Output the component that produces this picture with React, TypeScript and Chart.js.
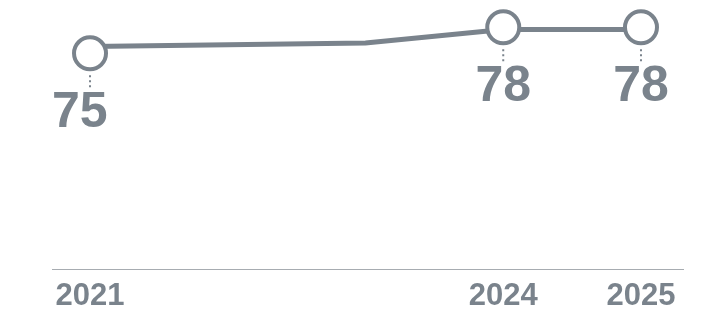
import React, { useEffect, useRef } from "react";
import { Chart, registerables } from "chart.js";

Chart.register(...registerables);

// Data
const lineYears = [2021, 2023, 2024, 2025];
const lineValues = [75.8, 76.2, 77.75, 77.75];
const markerYears = [2021, 2024, 2025];
const markerValues = [75, 78, 78];
const markerLabels = ["75", "78", "78"];
const tickYears = [2021, 2024, 2025];

const GRAY = "#7a838c";
const AXIS = "#a7acb1";

const valueLabelPlugin = {
  id: "valueLabels",
  afterDatasetsDraw(chart: any) {
    const ctx = chart.ctx;
    const meta = chart.getDatasetMeta(0);
    const area = chart.chartArea;
    ctx.save();
    meta.data.forEach((pt: any, i: number) => {
      const x = pt.x;
      const y = pt.y;
      // dotted connector
      ctx.strokeStyle = GRAY;
      ctx.lineWidth = 2;
      ctx.setLineDash([2, 3]);
      ctx.beginPath();
      ctx.moveTo(x, y + 22);
      ctx.lineTo(x, y + 34);
      ctx.stroke();
      ctx.setLineDash([]);
      // label
      ctx.fillStyle = GRAY;
      ctx.font = "bold 50px 'Liberation Sans', Arial, sans-serif";
      ctx.textBaseline = "alphabetic";
      const w = ctx.measureText(markerLabels[i]).width;
      let left = x - w / 2;
      if (left - 15 < area.left) left = area.left;
      ctx.textAlign = "left";
      ctx.fillText(markerLabels[i], left, y + 74);
    });
    ctx.restore();
  },
};

export default function App() {
  const ref = useRef<HTMLCanvasElement | null>(null);
  useEffect(() => {
    if (!ref.current) return;
    const chart = new Chart(ref.current, {
      type: "line",
      data: {
        datasets: [
          {
            data: markerYears.map((x, i) => ({ x, y: markerValues[i] })),
            showLine: false,
            pointRadius: 16,
            pointBorderWidth: 4,
            pointBorderColor: GRAY,
            pointBackgroundColor: "#ffffff",
            clip: false as any,
          },
          {
            data: lineYears.map((x, i) => ({ x, y: lineValues[i] })),
            borderColor: GRAY,
            borderWidth: 5,
            pointRadius: 0,
            tension: 0,
            fill: false,
            clip: false as any,
          },
        ],
      },
      options: {
        animation: false,
        responsive: true,
        maintainAspectRatio: false,
        layout: { autoPadding: false, padding: { left: 52, right: 39, top: 10, bottom: -10 } },
        plugins: { legend: { display: false }, tooltip: { enabled: false } },
        scales: {
          x: {
            type: "linear",
            min: 2020.724,
            max: 2025.305,
            afterBuildTicks: (scale: any) => {
              scale.ticks = tickYears.map((v) => ({ value: v }));
            },
            grid: { display: false, drawTicks: false },
            border: { display: true, color: AXIS, width: 1 },
            ticks: {
              autoSkip: false,
              maxRotation: 0,
              padding: 10,
              color: GRAY,
              font: { family: "'Liberation Sans', Arial, sans-serif", size: 31, weight: "bold", lineHeight: 1.065 },
              callback: (v: any) => String(v),
            },
          },
          y: {
            display: false,
            min: 50,
            max: 80,
          },
        },
      },
      plugins: [valueLabelPlugin],
    });
    return () => chart.destroy();
  }, []);
  return (
    <div style={{ position: "absolute", left: 0, top: 0, width: 722, height: 313 }}>
      <canvas ref={ref} />
    </div>
  );
}
